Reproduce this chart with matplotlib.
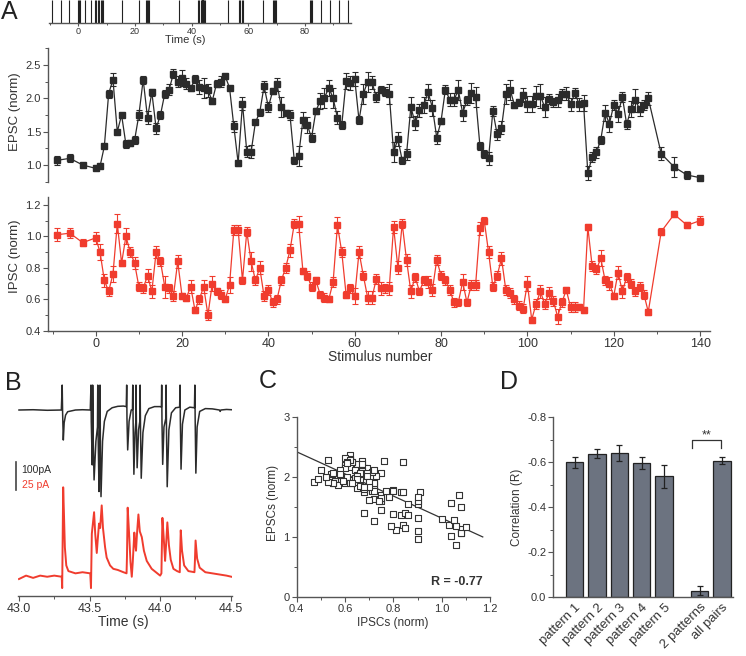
import numpy as np
import matplotlib
matplotlib.use("Agg")
import matplotlib.pyplot as plt
from matplotlib.ticker import MultipleLocator

plt.rcParams['font.family'] = ['Liberation Sans', 'DejaVu Sans']

# ---------------- data ----------------
# A (top): stimulus times (s)
stim_times = [-9.4, -6.1, -3.2, -0.2, 0.2, 0.5, 2.4, 4.4, 5.9, 6.3, 6.8, 7.4, 7.9, 8.3, 8.7,
              15.3, 21.5, 23.9, 24.3, 24.7, 25.1, 35.5, 42.1, 42.5, 43.31, 43.51, 43.52,
              43.56, 43.57, 43.76, 43.81, 43.83, 43.86, 44.01, 44.04, 44.14, 44.25, 44.6,
              52.8, 56.8, 57.2, 57.6, 58.0, 65.3, 68.6, 69.0, 69.4, 69.8,
              81.8, 82.1, 82.4, 85.6, 88.8, 91.8, 95.0]

# A: stimulus number, EPSC and IPSC (normalised)
stim_num = [-9, -6, -3] + list(range(0, 129)) + [131, 134, 137, 140]
epsc = [1.07, 1.10, 1.00,
        0.95, 0.98, 1.28, 2.07, 2.28, 1.50, 1.75, 1.31, 1.33, 1.37,
        1.75, 2.28, 1.71, 2.09, 1.55, 1.75, 2.07, 2.13, 2.37, 2.25,
        2.31, 2.22, 2.15, 2.29, 2.17, 2.15, 2.12, 1.96, 2.22, 2.25,
        2.33, 2.16, 1.58, 1.03, 1.92, 1.20, 1.20, 1.64, 1.79, 2.18,
        1.87, 2.11, 2.21, 1.87, 1.78, 1.75, 1.07, 1.14, 1.67, 1.60,
        1.41, 1.81, 1.96, 2.01, 2.16, 2.00, 1.71, 1.60, 2.26, 2.23,
        2.29, 1.67, 2.07, 2.25, 2.24, 2.02, 2.13, 2.10, 2.07, 1.19,
        1.39, 1.07, 1.16, 1.87, 1.63, 1.82, 1.90, 2.09, 1.86, 1.41,
        1.66, 2.13, 1.98, 1.98, 2.12, 1.78, 1.97, 2.08, 2.02, 1.29,
        1.17, 1.10, 1.81, 1.46, 1.56, 2.06, 2.13, 1.90, 1.94, 2.05,
        1.92, 1.92, 2.04, 2.04, 1.87, 1.99, 1.94, 1.97, 2.06, 2.07,
        1.91, 2.08, 1.91, 1.93, 0.88, 1.12, 1.19, 1.38, 1.78, 1.62,
        1.90, 1.77, 2.02, 1.61, 1.84, 1.97, 1.84, 1.90, 2.00,
        1.17, 0.97, 0.85, 0.81]
epsc_err = [0.07, 0.06, 0.02,
            0.03, 0.02, 0.03, 0.06, 0.10, 0.03, 0.03, 0.06, 0.05, 0.06,
            0.08, 0.06, 0.10, 0.05, 0.08, 0.06, 0.06, 0.08, 0.07, 0.08,
            0.12, 0.08, 0.04, 0.06, 0.10, 0.15, 0.10, 0.04, 0.05, 0.08,
            0.04, 0.03, 0.08, 0.05, 0.10, 0.08, 0.10, 0.03, 0.05, 0.08,
            0.07, 0.05, 0.10, 0.15, 0.05, 0.08, 0.05, 0.15, 0.12, 0.12,
            0.07, 0.05, 0.12, 0.15, 0.12, 0.15, 0.10, 0.06, 0.12, 0.10,
            0.10, 0.06, 0.15, 0.15, 0.10, 0.07, 0.05, 0.07, 0.15, 0.15,
            0.10, 0.05, 0.08, 0.15, 0.10, 0.10, 0.12, 0.12, 0.12, 0.10,
            0.05, 0.07, 0.10, 0.10, 0.15, 0.12, 0.07, 0.15, 0.15, 0.06,
            0.06, 0.10, 0.07, 0.08, 0.10, 0.15, 0.15, 0.05, 0.05, 0.10,
            0.12, 0.12, 0.15, 0.18, 0.15, 0.07, 0.07, 0.10, 0.08, 0.10,
            0.10, 0.08, 0.10, 0.12, 0.10, 0.08, 0.08, 0.06, 0.12, 0.12,
            0.08, 0.12, 0.08, 0.07, 0.12, 0.17, 0.10, 0.08, 0.10,
            0.10, 0.15, 0.06, 0.01]
ipsc = [1.01, 1.02, 0.96,
        0.99, 0.90, 0.72, 0.65, 0.76, 1.08, 0.83, 1.00, 0.90, 0.83,
        0.68, 0.67, 0.75, 0.65, 0.90, 0.84, 0.68, 0.67, 0.62, 0.84,
        0.62, 0.61, 0.68, 0.53, 0.60, 0.68, 0.50, 0.70, 0.65, 0.63,
        0.60, 0.69, 1.04, 1.04, 0.72, 1.03, 0.84, 0.72, 0.80, 0.62,
        0.66, 0.58, 0.60, 0.72, 0.80, 0.91, 1.08, 1.08, 0.78, 0.75,
        0.68, 0.72, 0.63, 0.61, 0.60, 0.71, 1.07, 0.90, 0.63, 0.67,
        0.62, 0.90, 0.75, 0.61, 0.61, 0.73, 0.67, 0.67, 0.67, 1.06,
        0.80, 1.08, 0.85, 0.65, 0.74, 0.65, 0.72, 0.71, 0.66, 0.85,
        0.75, 0.72, 0.66, 0.58, 0.58, 0.71, 0.58, 0.69, 0.69, 1.05,
        1.10, 0.90, 0.68, 0.75, 0.86, 0.66, 0.64, 0.60, 0.56, 0.54,
        0.70, 0.47, 0.57, 0.65, 0.57, 0.64, 0.59, 0.49, 0.58, 0.66,
        0.55, 0.55, 0.55, 0.53, 1.06, 0.81, 0.79, 0.86, 0.72, 0.70,
        0.62, 0.77, 0.65, 0.74, 0.70, 0.65, 0.68, 0.63, 0.52,
        1.03, 1.14, 1.07, 1.10]
ipsc_err = [0.04, 0.03, 0.02,
            0.04, 0.05, 0.04, 0.03, 0.05, 0.06, 0.02, 0.05, 0.03, 0.04,
            0.03, 0.03, 0.04, 0.04, 0.04, 0.03, 0.07, 0.03, 0.03, 0.04,
            0.02, 0.02, 0.04, 0.02, 0.03, 0.04, 0.03, 0.05, 0.02, 0.03,
            0.02, 0.05, 0.03, 0.03, 0.02, 0.03, 0.06, 0.03, 0.04, 0.03,
            0.03, 0.03, 0.03, 0.03, 0.03, 0.04, 0.03, 0.05, 0.02, 0.03,
            0.03, 0.02, 0.02, 0.03, 0.02, 0.03, 0.05, 0.03, 0.02, 0.03,
            0.05, 0.04, 0.03, 0.04, 0.04, 0.03, 0.04, 0.03, 0.04, 0.04,
            0.04, 0.03, 0.04, 0.04, 0.03, 0.02, 0.03, 0.04, 0.04, 0.03,
            0.03, 0.03, 0.03, 0.03, 0.02, 0.05, 0.02, 0.03, 0.03, 0.04,
            0.02, 0.04, 0.03, 0.03, 0.04, 0.03, 0.03, 0.03, 0.03, 0.03,
            0.05, 0.02, 0.03, 0.04, 0.03, 0.04, 0.03, 0.05, 0.03, 0.02,
            0.03, 0.03, 0.02, 0.02, 0.02, 0.03, 0.03, 0.05, 0.03, 0.04,
            0.02, 0.04, 0.04, 0.03, 0.03, 0.03, 0.03, 0.03, 0.02,
            0.02, 0.02, 0.02, 0.03]

# B: traces, time (s) and current (pA)
epsc_t = [43.000, 43.10, 43.20, 43.300, 43.306, 43.309, 43.314, 43.320, 43.330, 43.345, 43.40, 43.45, 43.505,
          43.510, 43.512, 43.519, 43.521, 43.522, 43.525, 43.532, 43.545, 43.556, 43.558, 43.561, 43.567,
          43.572, 43.574, 43.577, 43.581, 43.592, 43.605, 43.625, 43.66, 43.70, 43.74, 43.760,
          43.763, 43.765, 43.770, 43.780, 43.795, 43.804, 43.806, 43.809, 43.814, 43.822, 43.828, 43.829,
          43.832, 43.837, 43.847, 43.856, 43.858, 43.861, 43.866, 43.878, 43.895, 43.92, 43.96, 44.00, 44.009,
          44.011, 44.013, 44.018, 44.027, 44.040, 44.042, 44.045, 44.050, 44.062, 44.08, 44.11, 44.138,
          44.141, 44.143, 44.148, 44.158, 44.175, 44.21, 44.243,
          44.246, 44.248, 44.253, 44.262, 44.28, 44.32, 44.37, 44.42, 44.425, 44.43, 44.47, 44.505]
epsc_i = [0, 1, -1, 0, 88, -10, -106, -45, -18, -6, 0, 1, 0,
          88, -40, -194, -100, 88, -80, -247, -110, -60, 88, -100, -288,
          -150, 88, -140, -306, -110, -40, -5, 8, 13, 14, 12,
          88, -30, -141, -40, 0, 2, 88, -60, -227, -80, -40, 88,
          -60, -204, -70, -40, 88, -70, -241, -80, -20, 5, 12, 12, 10,
          88, -40, -192, -60, -30, 88, -70, -271, -70, -10, 8, 10,
          88, -30, -209, -50, 0, 10, 8,
          88, -30, -223, -60, -5, 5, 4, 0, -5, 0, 2, 1]
ipsc_t = [43.000, 43.05, 43.10, 43.15, 43.20, 43.25, 43.303, 43.306, 43.309, 43.313, 43.318, 43.325, 43.335,
          43.35, 43.40, 43.45, 43.505, 43.510,
          43.516, 43.532, 43.540, 43.551, 43.558, 43.567, 43.575, 43.586, 43.595, 43.610, 43.621, 43.645,
          43.668, 43.70, 43.74, 43.762,
          43.765, 43.770, 43.780, 43.790, 43.799, 43.806, 43.817, 43.824, 43.829, 43.836, 43.846, 43.856,
          43.870, 43.885, 43.905, 43.94, 43.97, 44.00, 44.009,
          44.011, 44.016, 44.026, 44.035, 44.042, 44.051, 44.062, 44.075, 44.094, 44.12, 44.139,
          44.141, 44.146, 44.155, 44.17, 44.20, 44.243,
          44.246, 44.251, 44.262, 44.28, 44.32, 44.37, 44.42, 44.47, 44.505]
ipsc_i = [0, 3, 1, 3, 2, 3, 2, -8, 30, 81, 60, 28, 12,
          7, 5, 6, 5, -8,
          40, 59, 40, 23, 35, 49, 45, 65, 45, 28, 19, 12,
          9, 8, 6, 5,
          20, 63, 40, 15, 2, 15, 41, 30, 25, 40, 57, 42,
          37, 25, 16, 9, 6, 3, 5,
          20, 54, 35, 16, 30, 50, 30, 17, 9, 7, 6,
          20, 43, 25, 12, 7, 6,
          15, 34, 18, 10, 6, 5, 4, 3, 2]

# D: correlation per pattern
bar_labels = ['pattern 1', 'pattern 2', 'pattern 3', 'pattern 4', 'pattern 5', '2 patterns', 'all pairs']
bar_vals = [-0.600, -0.637, -0.643, -0.597, -0.537, -0.030, -0.607]
bar_err = [0.025, 0.020, 0.036, 0.027, 0.052, 0.020, 0.015]

# ---------------- layout helpers ----------------
W, H = 746, 656
fig = plt.figure(figsize=(W / 100, H / 100), dpi=100)


def box(l, t, r, b):
    return [l / W, 1 - b / H, (r - l) / W, (b - t) / H]


def ftext(x, y, s, **kw):
    fig.text(x / W, 1 - y / H, s, ha='center', va='center', **kw)


AX = '#555555'
TXT = '#333333'
BLK = '#2b2b2b'
RED = '#f03c2e'


def style(ax, left=True, bottom=True):
    for s in ['top', 'right']:
        ax.spines[s].set_visible(False)
    ax.spines['left'].set_visible(left)
    ax.spines['bottom'].set_visible(bottom)
    for s in ['left', 'bottom']:
        ax.spines[s].set_color(AX)
        ax.spines[s].set_linewidth(1.0)
    ax.tick_params(which='major', direction='out', length=3.5, width=0.8, color=AX,
                   labelsize=8, labelcolor=TXT, pad=1.5)
    ax.tick_params(which='minor', direction='out', length=2, width=0.7, color=AX)
    if not left:
        ax.tick_params(axis='y', which='both', left=False, labelleft=False)
    if not bottom:
        ax.tick_params(axis='x', which='both', bottom=False, labelbottom=False)
    ax.patch.set_alpha(0)


# ---------------- A: raster ----------------
ax0 = fig.add_axes(box(49, 0, 351, 23))
ax0.vlines(stim_times, 0, 1, color='#222222', lw=0.8)
ax0.set_xlim(-10.35, 96.2)
ax0.set_ylim(0, 1)
style(ax0, left=False)
ax0.xaxis.set_major_locator(MultipleLocator(20))
ax0.xaxis.set_minor_locator(MultipleLocator(10))
ax0.tick_params(which='major', length=2.5, labelsize=6.5, pad=0.5)
ax0.tick_params(which='minor', length=1.5)
ftext(185, 40, 'Time (s)', fontsize=8, color=TXT)

# ---------------- A: EPSC ----------------
ax1 = fig.add_axes(box(48, 48.3, 710, 181.7))
ax1.errorbar(stim_num, epsc, yerr=epsc_err, fmt='-s', color=BLK, ms=4.2, lw=0.9,
             elinewidth=0.8, capsize=2, capthick=0.8)
ax1.set_xlim(-11.05, 142.3)
ax1.set_ylim(0.75, 2.75)
style(ax1, bottom=False)
ax1.yaxis.set_major_locator(MultipleLocator(0.5))
ax1.yaxis.set_minor_locator(MultipleLocator(0.25))
ax1.yaxis.set_major_formatter(matplotlib.ticker.FormatStrFormatter('%.1f'))
ftext(15, 112, 'EPSC (norm)', fontsize=9.5, rotation=90, color=TXT)

# ---------------- A: IPSC ----------------
ax2 = fig.add_axes(box(48, 197, 710, 330.7))
ax2.errorbar(stim_num, ipsc, yerr=ipsc_err, fmt='-s', color=RED, ms=4.2, lw=0.9,
             elinewidth=0.8, capsize=2, capthick=0.8)
ax2.set_xlim(-11.05, 142.3)
ax2.set_ylim(0.4, 1.25)
style(ax2)
ax2.yaxis.set_major_locator(MultipleLocator(0.2))
ax2.yaxis.set_minor_locator(MultipleLocator(0.1))
ax2.yaxis.set_major_formatter(matplotlib.ticker.FormatStrFormatter('%.1f'))
ax2.xaxis.set_major_locator(MultipleLocator(20))
ax2.xaxis.set_minor_locator(MultipleLocator(10))
ax2.tick_params(axis='x', labelsize=9)
ftext(15, 256, 'IPSC (norm)', fontsize=9.5, rotation=90, color=TXT)
ftext(380, 357, 'Stimulus number', fontsize=10, color=TXT)

# ---------------- B: traces ----------------
ax3 = fig.add_axes(box(18, 380, 232, 596))
ax3.plot(epsc_t, np.array(epsc_i) + 657, color=BLK, lw=1.1)
ax3.plot(ipsc_t, np.array(ipsc_i) * 4 + 60, color=RED, lw=1.4)
ax3.plot([42.979, 42.979], [374, 474], color='#444444', lw=1.2, clip_on=False)
ax3.text(43.018, 445, '100pA', fontsize=7.5, color=BLK, va='center')
ax3.text(43.018, 391, '25 pA', fontsize=7.5, color=RED, va='center')
ax3.set_xlim(42.993, 44.509)
ax3.set_ylim(0, 763)
style(ax3, left=False)
ax3.xaxis.set_major_locator(MultipleLocator(0.5))
ax3.xaxis.set_minor_locator(MultipleLocator(0.25))
ax3.xaxis.set_major_formatter(matplotlib.ticker.FormatStrFormatter('%.1f'))
ax3.tick_params(axis='x', labelsize=9)
ftext(123, 622, 'Time (s)', fontsize=10, color=TXT)

# ---------------- C: scatter ----------------
ax4 = fig.add_axes(box(296.7, 417.3, 490, 597.3))
sel = [i for i, s in enumerate(stim_num) if 1 <= s <= 128]
xs = np.array([ipsc[i] for i in sel])
ys = np.array([epsc[i] for i in sel])
ax4.scatter(xs, ys, marker='s', s=24, facecolors='white', edgecolors='#333333', linewidths=0.8, zorder=3)
slope, icpt = np.polyfit(xs, ys, 1)
fx = np.array([0.4, 1.17])
ax4.plot(fx, slope * fx + icpt, color='#333333', lw=0.9, zorder=2)
ax4.text(1.17, 0.25, 'R = -0.77', fontsize=9, fontweight='bold', color=TXT, ha='right', va='center')
ax4.set_xlim(0.4, 1.2)
ax4.set_ylim(0, 3)
style(ax4)
ax4.xaxis.set_major_locator(MultipleLocator(0.2))
ax4.xaxis.set_minor_locator(MultipleLocator(0.1))
ax4.yaxis.set_major_locator(MultipleLocator(1))
ax4.yaxis.set_minor_locator(MultipleLocator(0.5))
ax4.xaxis.set_major_formatter(matplotlib.ticker.FormatStrFormatter('%.1f'))
ftext(393, 623, 'IPSCs (norm)', fontsize=8.5, color=TXT)
ftext(273, 503, 'EPSCs (norm)', fontsize=8.5, rotation=90, color=TXT)

# ---------------- D: bars ----------------
ax5 = fig.add_axes(box(553.3, 417.3, 733, 597.3))
xpos = [0, 1, 2, 3, 4, 5.6, 6.6]
ax5.bar(xpos, bar_vals, width=0.77, color='#6c7380', edgecolor='#222222', linewidth=0.9)
ax5.errorbar(xpos, bar_vals, yerr=bar_err, fmt='none', ecolor='#222222', elinewidth=0.9,
             capsize=2.5, capthick=0.9)
ax5.plot([5.25, 5.25, 6.55, 6.55], [-0.663, -0.70, -0.70, -0.663], color='#333333', lw=0.9)
ax5.text(5.9, -0.718, '**', fontsize=9, ha='center', va='center', color=TXT)
ax5.set_xlim(-0.96, 7.09)
ax5.set_ylim(0, -0.8)
style(ax5)
ax5.yaxis.set_major_locator(MultipleLocator(0.2))
ax5.yaxis.set_minor_locator(MultipleLocator(0.1))
ax5.yaxis.set_major_formatter(matplotlib.ticker.FormatStrFormatter('%.1f'))
ax5.set_xticks(xpos)
ax5.set_xticklabels(bar_labels, rotation=45, ha='right', rotation_mode='anchor', fontsize=9.5)
ax5.tick_params(axis='x', length=0, pad=3)
ftext(517, 507, 'Correlation (R)', fontsize=8.5, rotation=90, color=TXT)

# panel letters
ftext(9, 12, 'A', fontsize=18, color='#222222')
ftext(13, 383, 'B', fontsize=18, color='#222222')
ftext(268, 381, 'C', fontsize=18, color='#222222')
ftext(509, 382, 'D', fontsize=18, color='#222222')

fig.savefig('out.png', dpi=100)
